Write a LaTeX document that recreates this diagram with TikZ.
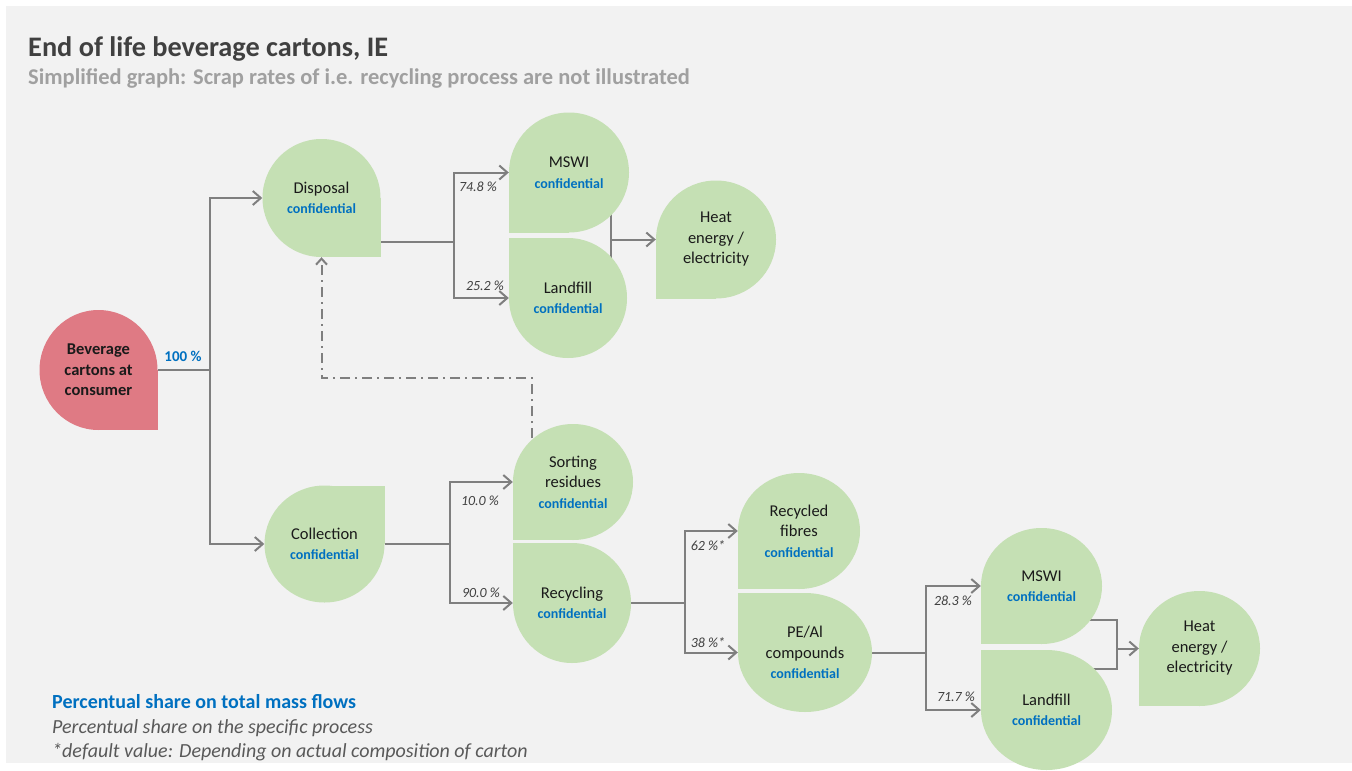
\documentclass[tikz,border=0pt]{standalone}
\usepackage{fontspec}
\setmainfont{Carlito}
\usetikzlibrary{arrows.meta,calc}
\pgfdeclarelayer{panel}\pgfdeclarelayer{lines}
\pgfsetlayers{panel,lines,main}
\definecolor{bgc}{HTML}{F2F2F2}
\definecolor{grn}{HTML}{C5E0B4}
\definecolor{redc}{HTML}{DF7A84}
\definecolor{cblue}{HTML}{0070C0}
\definecolor{lncol}{HTML}{7F7F7F}
\definecolor{ttl}{HTML}{404040}
\definecolor{subc}{HTML}{A0A0A0}
\definecolor{legc}{HTML}{595959}
\definecolor{txc}{HTML}{1A1A1A}
\newcommand{\tdrop}[8]{%
  \fill[#7] #2 ellipse[x radius=#3, y radius=#4];
  \fill[#7] #2 rectangle ++({#5*#3},{#6*#4});
  \node[dtext, minimum width={2*#3}, minimum height={2*#4}] (#1) at #2 {#8};}
\newcommand{\cf}{\\{\fontsize{14}{20.5}\selectfont\bfseries\color{cblue}confidential}}
\tikzset{
 dtext/.style={inner sep=0pt, align=center, font=\fontsize{16.5}{20.5}\selectfont, text=txc},
 ln/.style={draw=lncol, line width=2pt},
 arr/.style={ln, -{Straight Barb[length=8pt,width=14pt]}},
 dd/.style={ln, dash pattern=on 10pt off 5pt on 2pt off 5pt, -{Straight Barb[length=6pt,width=11pt]}},
 pct/.style={font=\fontsize{14}{16}\selectfont\itshape, text=ttl, inner sep=0pt},
 leg/.style={anchor=base west, inner sep=0pt, font=\fontsize{20}{22}\selectfont},
}
\begin{document}
\begin{tikzpicture}[x=1pt,y=-1pt]
\useasboundingbox (0,0) rectangle (1352,771);
\begin{pgfonlayer}{panel}
\fill[white] (0,0) rectangle (1352,771);
\fill[bgc] (6,6) rectangle (1352,763);
\end{pgfonlayer}
% title
\node[anchor=base west, inner sep=0pt, font=\fontsize{28.3}{31}\selectfont\bfseries, text=ttl] (title) at (28,56) {End of life beverage cartons, IE};
\node[anchor=base west, inner sep=0pt, font=\fontsize{22.5}{25}\selectfont\bfseries, text=subc] (subt) at (28,84) {Simplified graph: Scrap rates of i.e. recycling process are not illustrated};
% shapes
\tdrop{bev}{(98.5,370)}{59}{60}{1}{1}{redc}{\bfseries Beverage\\\bfseries cartons at\\\bfseries consumer}
\tdrop{dis}{(321.5,198)}{59}{59}{1}{1}{grn}{Disposal\cf}
\tdrop{msw1}{(569,172.5)}{60}{60}{-1}{1}{grn}{MSWI\cf}
\tdrop{lf1}{(568,298)}{59}{60}{-1}{-1}{grn}{Landfill\cf}
\tdrop{heat1}{(716,239.5)}{60}{59}{-1}{1}{grn}{Heat\\energy /\\electricity}
\tdrop{col}{(324.5,544)}{60}{58.5}{1}{-1}{grn}{Collection\cf}
\tdrop{sort}{(573,482)}{60}{58}{-1}{1}{grn}{Sorting\\residues\cf}
\tdrop{rec}{(572,603)}{59}{60}{-1}{-1}{grn}{Recycling\cf}
\tdrop{fib}{(799,531)}{61}{58}{-1}{1}{grn}{Recycled\\fibres\cf}
\tdrop{pe}{(805,652.5)}{67}{59.5}{-1}{-1}{grn}{PE/Al\\compounds\cf}
\tdrop{msw2}{(1041.5,586)}{60.5}{58}{-1}{1}{grn}{MSWI\cf}
\tdrop{lf2}{(1046.5,710)}{65.5}{60}{-1}{-1}{grn}{Landfill\cf}
\tdrop{heat2}{(1199.5,648.5)}{60.5}{57.5}{-1}{1}{grn}{Heat\\energy /\\electricity}
% junctions
\coordinate (b1) at (210,370);
\coordinate (b2) at (454,242);
\coordinate (b3) at (611,239.5);
\coordinate (b4) at (450,544);
\coordinate (b5) at (532,378);
\coordinate (b6) at (685,603);
\coordinate (b7) at (926,652.5);
\coordinate (b8) at (1117,648.5);
\begin{pgfonlayer}{lines}
\draw[ln] (bev.east) -- (b1);
\draw[arr] (b1) |- (dis.west);
\draw[arr] (b1) |- (col.west);
\draw[ln] (dis.center |- b2) -- (b2);
\draw[arr] (b2) |- (msw1.west);
\draw[arr] (b2) |- (lf1.west);
\draw[ln] (b3 |- msw1.center) -- (b3 |- lf1.center);
\draw[arr] (b3) -- (heat1.west);
\draw[ln] (col.east) -- (b4);
\draw[arr] (b4) |- (sort.west);
\draw[arr] (b4) |- (rec.west);
\draw[dd] (b5 |- sort.center) -- (b5) -| (dis.south);
\draw[ln] (rec.east) -- (b6);
\draw[arr] (b6) |- (fib.west);
\draw[arr] (b6) |- (pe.west);
\draw[ln] (pe.east) -- (b7);
\draw[arr] (b7) |- (msw2.west);
\draw[arr] (b7) |- (lf2.west);
\draw[ln] ($(msw2.center)+(0,34)$) -| (b8) |- ($(lf2.center)+(0,-41)$);
\draw[arr] (b8) -- (heat2.west);
\end{pgfonlayer}
% labels
\node[inner sep=0pt, font=\fontsize{15}{17}\selectfont\bfseries, text=cblue] (p100) at (183,356) {100 \%};
\node[pct] (p748) at (478,187) {74.8 \%};
\node[pct] (p252) at (485,286) {25.2 \%};
\node[pct] (p100b) at (480,501) {10.0 \%};
\node[pct] (p900) at (481,593) {90.0 \%};
\node[pct] (p62) at (708,546) {62 \%*};
\node[pct] (p38) at (708,643) {38 \%*};
\node[pct] (p283) at (953,601) {28.3 \%};
\node[pct] (p717) at (956,697) {71.7 \%};
% legend
\node[leg, text=cblue, font=\fontsize{20}{22}\selectfont\bfseries] (l1) at (52,708) {Percentual share on total mass flows};
\node[leg, text=legc, font=\fontsize{20}{22}\selectfont\itshape] (l2) at (52,733) {Percentual share on the specific process};
\node[leg, text=legc, font=\fontsize{20}{22}\selectfont\itshape] (l3) at (52,757) {*default value: Depending on actual composition of carton};
\end{tikzpicture}
\end{document}
